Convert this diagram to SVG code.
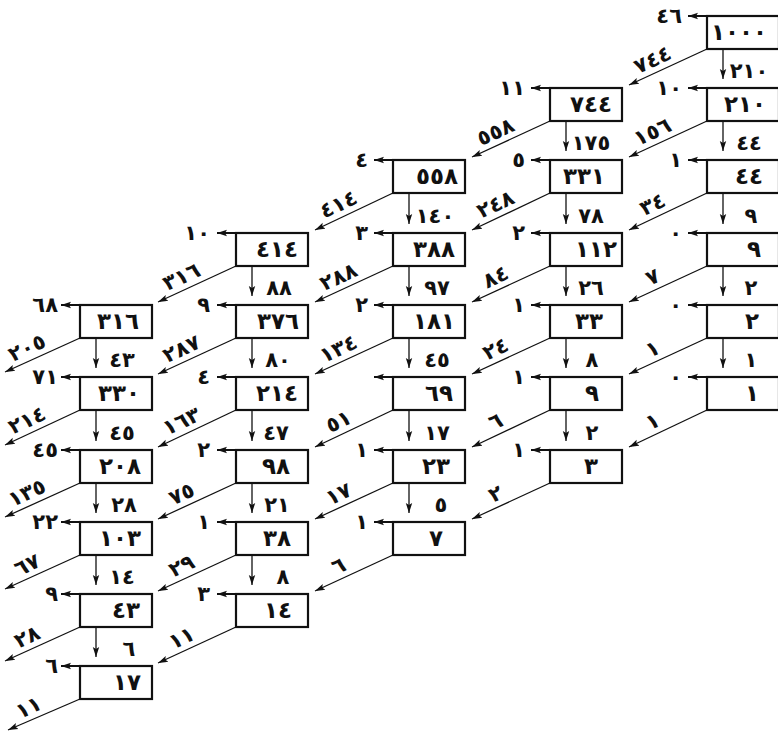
<svg xmlns="http://www.w3.org/2000/svg" width="778" height="738" viewBox="0 0 778 738">
<defs>
<marker id="ah" markerUnits="userSpaceOnUse" markerWidth="12" markerHeight="8" refX="10" refY="4" orient="auto">
<path d="M0,0.8 L10,4 L0,7.2 L2,4 Z" fill="#111"/>
</marker>
</defs>
<style>
.b{fill:#fff;stroke:#111;stroke-width:2.2}
text{font-family:"DejaVu Sans",sans-serif;font-weight:bold;font-size:21px;fill:#111}
.v{text-anchor:middle;font-size:23px}
.l{text-anchor:end}
.d{text-anchor:middle}
.g{text-anchor:middle}
.h{stroke:#111;stroke-width:2;marker-end:url(#ah)}
.dn{stroke:#111;stroke-width:1.3;marker-end:url(#ah)}
.dg{stroke:#111;stroke-width:1.3;marker-end:url(#ah)}
</style>
<rect width="778" height="738" fill="#fff"/>
<g id="connectors">
<line class="h" x1="708" y1="16" x2="688" y2="16"/>
<line class="h" x1="708" y1="88" x2="688" y2="88"/>
<line class="h" x1="708" y1="160" x2="688" y2="160"/>
<line class="h" x1="708" y1="233" x2="688" y2="233"/>
<line class="h" x1="708" y1="305" x2="688" y2="305"/>
<line class="h" x1="708" y1="377" x2="688" y2="377"/>
<line class="dn" x1="723" y1="49" x2="723" y2="79"/>
<line class="dn" x1="723" y1="121" x2="723" y2="151"/>
<line class="dn" x1="723" y1="193" x2="723" y2="224"/>
<line class="dn" x1="723" y1="266" x2="723" y2="296"/>
<line class="dn" x1="723" y1="338" x2="723" y2="368"/>
<line class="dg" x1="707" y1="49" x2="629" y2="85"/>
<line class="dg" x1="707" y1="121" x2="629" y2="157"/>
<line class="dg" x1="707" y1="193" x2="629" y2="230"/>
<line class="dg" x1="707" y1="266" x2="629" y2="302"/>
<line class="dg" x1="707" y1="338" x2="629" y2="374"/>
<line class="dg" x1="707" y1="410" x2="629" y2="447"/>
<line class="h" x1="551" y1="88" x2="531" y2="88"/>
<line class="h" x1="551" y1="160" x2="531" y2="160"/>
<line class="h" x1="551" y1="233" x2="531" y2="233"/>
<line class="h" x1="551" y1="305" x2="531" y2="305"/>
<line class="h" x1="551" y1="377" x2="531" y2="377"/>
<line class="h" x1="551" y1="450" x2="531" y2="450"/>
<line class="dn" x1="566" y1="121" x2="566" y2="151"/>
<line class="dn" x1="566" y1="193" x2="566" y2="224"/>
<line class="dn" x1="566" y1="266" x2="566" y2="296"/>
<line class="dn" x1="566" y1="338" x2="566" y2="368"/>
<line class="dn" x1="566" y1="410" x2="566" y2="441"/>
<line class="dg" x1="550" y1="121" x2="472" y2="157"/>
<line class="dg" x1="550" y1="193" x2="472" y2="230"/>
<line class="dg" x1="550" y1="266" x2="472" y2="302"/>
<line class="dg" x1="550" y1="338" x2="472" y2="374"/>
<line class="dg" x1="550" y1="410" x2="472" y2="447"/>
<line class="dg" x1="550" y1="483" x2="472" y2="519"/>
<line class="h" x1="394" y1="160" x2="374" y2="160"/>
<line class="h" x1="394" y1="233" x2="374" y2="233"/>
<line class="h" x1="394" y1="305" x2="374" y2="305"/>
<line class="h" x1="394" y1="377" x2="374" y2="377"/>
<line class="h" x1="394" y1="450" x2="374" y2="450"/>
<line class="h" x1="394" y1="522" x2="374" y2="522"/>
<line class="dn" x1="409" y1="193" x2="409" y2="224"/>
<line class="dn" x1="409" y1="266" x2="409" y2="296"/>
<line class="dn" x1="409" y1="338" x2="409" y2="368"/>
<line class="dn" x1="409" y1="410" x2="409" y2="441"/>
<line class="dn" x1="409" y1="483" x2="409" y2="513"/>
<line class="dg" x1="393" y1="193" x2="315" y2="230"/>
<line class="dg" x1="393" y1="266" x2="315" y2="302"/>
<line class="dg" x1="393" y1="338" x2="315" y2="374"/>
<line class="dg" x1="393" y1="410" x2="315" y2="447"/>
<line class="dg" x1="393" y1="483" x2="315" y2="519"/>
<line class="dg" x1="393" y1="555" x2="315" y2="591"/>
<line class="h" x1="237" y1="233" x2="217" y2="233"/>
<line class="h" x1="237" y1="305" x2="217" y2="305"/>
<line class="h" x1="237" y1="377" x2="217" y2="377"/>
<line class="h" x1="237" y1="450" x2="217" y2="450"/>
<line class="h" x1="237" y1="522" x2="217" y2="522"/>
<line class="h" x1="237" y1="594" x2="217" y2="594"/>
<line class="dn" x1="252" y1="266" x2="252" y2="296"/>
<line class="dn" x1="252" y1="338" x2="252" y2="368"/>
<line class="dn" x1="252" y1="410" x2="252" y2="441"/>
<line class="dn" x1="252" y1="483" x2="252" y2="513"/>
<line class="dn" x1="252" y1="555" x2="252" y2="585"/>
<line class="dg" x1="236" y1="266" x2="158" y2="302"/>
<line class="dg" x1="236" y1="338" x2="158" y2="374"/>
<line class="dg" x1="236" y1="410" x2="158" y2="447"/>
<line class="dg" x1="236" y1="483" x2="158" y2="519"/>
<line class="dg" x1="236" y1="555" x2="158" y2="591"/>
<line class="dg" x1="236" y1="627" x2="158" y2="663"/>
<line class="h" x1="81" y1="305" x2="61" y2="305"/>
<line class="h" x1="81" y1="377" x2="61" y2="377"/>
<line class="h" x1="81" y1="450" x2="61" y2="450"/>
<line class="h" x1="81" y1="522" x2="61" y2="522"/>
<line class="h" x1="81" y1="594" x2="61" y2="594"/>
<line class="h" x1="81" y1="666" x2="61" y2="666"/>
<line class="dn" x1="96" y1="338" x2="96" y2="368"/>
<line class="dn" x1="96" y1="410" x2="96" y2="441"/>
<line class="dn" x1="96" y1="483" x2="96" y2="513"/>
<line class="dn" x1="96" y1="555" x2="96" y2="585"/>
<line class="dn" x1="96" y1="627" x2="96" y2="657"/>
<line class="dg" x1="80" y1="338" x2="5" y2="372"/>
<line class="dg" x1="80" y1="410" x2="5" y2="445"/>
<line class="dg" x1="80" y1="483" x2="5" y2="517"/>
<line class="dg" x1="80" y1="555" x2="5" y2="589"/>
<line class="dg" x1="80" y1="627" x2="5" y2="661"/>
<line class="dg" x1="80" y1="699" x2="8" y2="730"/>
<text class="l" x="682" y="23">٤٦</text>
<text class="l" x="682" y="95">١٠</text>
<text class="l" x="682" y="167">١</text>
<text class="l" x="682" y="240">٠</text>
<text class="l" x="682" y="312">٠</text>
<text class="l" x="682" y="384">٠</text>
<text class="l" x="525" y="95">١١</text>
<text class="l" x="525" y="167">٥</text>
<text class="l" x="525" y="240">٢</text>
<text class="l" x="525" y="312">١</text>
<text class="l" x="525" y="384">١</text>
<text class="l" x="525" y="457">١</text>
<text class="l" x="368" y="167">٤</text>
<text class="l" x="368" y="240">٣</text>
<text class="l" x="368" y="312">٢</text>
<text class="l" x="368" y="457">١</text>
<text class="l" x="368" y="529">١</text>
<text class="l" x="210" y="240">١٠</text>
<text class="l" x="210" y="312">٩</text>
<text class="l" x="210" y="384">٤</text>
<text class="l" x="210" y="457">٢</text>
<text class="l" x="210" y="529">١</text>
<text class="l" x="210" y="601">٣</text>
<text class="l" x="58" y="312">٦٨</text>
<text class="l" x="58" y="384">٧١</text>
<text class="l" x="58" y="457">٤٥</text>
<text class="l" x="58" y="529">٢٢</text>
<text class="l" x="58" y="601">٩</text>
<text class="l" x="58" y="673">٦</text>
<text class="d" x="749" y="78">٢١٠</text>
<text class="d" x="749" y="150">٤٤</text>
<text class="d" x="751" y="223">٩</text>
<text class="d" x="751" y="295">٢</text>
<text class="d" x="751" y="367">١</text>
<text class="d" x="591" y="150">١٧٥</text>
<text class="d" x="591" y="223">٧٨</text>
<text class="d" x="591" y="295">٢٦</text>
<text class="d" x="592" y="367">٨</text>
<text class="d" x="592" y="440">٢</text>
<text class="d" x="435" y="223">١٤٠</text>
<text class="d" x="437" y="295">٩٧</text>
<text class="d" x="437" y="367">٤٥</text>
<text class="d" x="437" y="440">١٧</text>
<text class="d" x="441" y="512">٥</text>
<text class="d" x="279" y="295">٨٨</text>
<text class="d" x="278" y="367">٨٠</text>
<text class="d" x="276" y="440">٤٧</text>
<text class="d" x="277" y="512">٢١</text>
<text class="d" x="283" y="584">٨</text>
<text class="d" x="122" y="367">٤٣</text>
<text class="d" x="122" y="440">٤٥</text>
<text class="d" x="124" y="512">٢٨</text>
<text class="d" x="122" y="584">١٤</text>
<text class="d" x="129" y="656">٦</text>
<text class="g" transform="translate(668 67) rotate(-25)" x="-11" y="-6">٧٤٤</text>
<text class="g" transform="translate(668 139) rotate(-25)" x="-11" y="-6">١٥٦</text>
<text class="g" transform="translate(668 211.5) rotate(-25)" x="-11" y="-6">٣٤</text>
<text class="g" transform="translate(668 284) rotate(-25)" x="-11" y="-6">٧</text>
<text class="g" transform="translate(668 356) rotate(-25)" x="-11" y="-6">١</text>
<text class="g" transform="translate(668 428.5) rotate(-25)" x="-11" y="-6">١</text>
<text class="g" transform="translate(511 139) rotate(-25)" x="-11" y="-6">٥٥٨</text>
<text class="g" transform="translate(511 211.5) rotate(-25)" x="-11" y="-6">٢٤٨</text>
<text class="g" transform="translate(511 284) rotate(-25)" x="-11" y="-6">٨٤</text>
<text class="g" transform="translate(511 356) rotate(-25)" x="-11" y="-6">٢٤</text>
<text class="g" transform="translate(511 428.5) rotate(-25)" x="-11" y="-6">٦</text>
<text class="g" transform="translate(511 501) rotate(-25)" x="-11" y="-6">٢</text>
<text class="g" transform="translate(354 211.5) rotate(-25)" x="-11" y="-6">٤١٤</text>
<text class="g" transform="translate(354 284) rotate(-25)" x="-11" y="-6">٢٨٨</text>
<text class="g" transform="translate(354 356) rotate(-25)" x="-11" y="-6">١٣٤</text>
<text class="g" transform="translate(354 428.5) rotate(-25)" x="-11" y="-6">٥١</text>
<text class="g" transform="translate(354 501) rotate(-25)" x="-11" y="-6">١٧</text>
<text class="g" transform="translate(354 573) rotate(-25)" x="-11" y="-6">٦</text>
<text class="g" transform="translate(197 284) rotate(-25)" x="-11" y="-6">٣١٦</text>
<text class="g" transform="translate(197 356) rotate(-25)" x="-11" y="-6">٢٨٧</text>
<text class="g" transform="translate(197 428.5) rotate(-25)" x="-11" y="-6">١٦٣</text>
<text class="g" transform="translate(197 501) rotate(-25)" x="-11" y="-6">٧٥</text>
<text class="g" transform="translate(197 573) rotate(-25)" x="-11" y="-6">٢٩</text>
<text class="g" transform="translate(197 645) rotate(-25)" x="-11" y="-6">١١</text>
<text class="g" transform="translate(42.5 355) rotate(-25)" x="-11" y="-6">٢٠٥</text>
<text class="g" transform="translate(42.5 427.5) rotate(-25)" x="-11" y="-6">٢١٤</text>
<text class="g" transform="translate(42.5 500) rotate(-25)" x="-11" y="-6">١٣٥</text>
<text class="g" transform="translate(42.5 572) rotate(-25)" x="-11" y="-6">٦٧</text>
<text class="g" transform="translate(42.5 644) rotate(-25)" x="-11" y="-6">٢٨</text>
<text class="g" transform="translate(44 714.5) rotate(-25)" x="-11" y="-6">١١</text>
</g>
<g id="n0-0"><rect class="b" x="707" y="16" width="72" height="33"/><text class="v" x="739" y="40">١٠٠٠</text></g>
<g id="n0-1"><rect class="b" x="707" y="88" width="72" height="33"/><text class="v" x="745" y="112">٢١٠</text></g>
<g id="n0-2"><rect class="b" x="707" y="160" width="72" height="33"/><text class="v" x="749" y="184">٤٤</text></g>
<g id="n0-3"><rect class="b" x="707" y="233" width="72" height="33"/><text class="v" x="754" y="257">٩</text></g>
<g id="n0-4"><rect class="b" x="707" y="305" width="72" height="33"/><text class="v" x="752" y="329">٢</text></g>
<g id="n0-5"><rect class="b" x="707" y="377" width="72" height="33"/><text class="v" x="752" y="401">١</text></g>
<g id="n1-0"><rect class="b" x="550" y="88" width="72" height="33"/><text class="v" x="591" y="112">٧٤٤</text></g>
<g id="n1-1"><rect class="b" x="550" y="160" width="72" height="33"/><text class="v" x="584" y="184">٣٣١</text></g>
<g id="n1-2"><rect class="b" x="550" y="233" width="72" height="33"/><text class="v" x="596" y="257">١١٢</text></g>
<g id="n1-3"><rect class="b" x="550" y="305" width="72" height="33"/><text class="v" x="589" y="329">٣٣</text></g>
<g id="n1-4"><rect class="b" x="550" y="377" width="72" height="33"/><text class="v" x="592" y="401">٩</text></g>
<g id="n1-5"><rect class="b" x="550" y="450" width="72" height="33"/><text class="v" x="591" y="474">٣</text></g>
<g id="n2-0"><rect class="b" x="393" y="160" width="72" height="33"/><text class="v" x="437" y="184">٥٥٨</text></g>
<g id="n2-1"><rect class="b" x="393" y="233" width="72" height="33"/><text class="v" x="434" y="257">٣٨٨</text></g>
<g id="n2-2"><rect class="b" x="393" y="305" width="72" height="33"/><text class="v" x="434" y="329">١٨١</text></g>
<g id="n2-3"><rect class="b" x="393" y="377" width="72" height="33"/><text class="v" x="439" y="401">٦٩</text></g>
<g id="n2-4"><rect class="b" x="393" y="450" width="72" height="33"/><text class="v" x="436" y="474">٢٣</text></g>
<g id="n2-5"><rect class="b" x="393" y="522" width="72" height="33"/><text class="v" x="436" y="546">٧</text></g>
<g id="n3-0"><rect class="b" x="236" y="233" width="72" height="33"/><text class="v" x="277" y="257">٤١٤</text></g>
<g id="n3-1"><rect class="b" x="236" y="305" width="72" height="33"/><text class="v" x="278" y="329">٣٧٦</text></g>
<g id="n3-2"><rect class="b" x="236" y="377" width="72" height="33"/><text class="v" x="277" y="401">٢١٤</text></g>
<g id="n3-3"><rect class="b" x="236" y="450" width="72" height="33"/><text class="v" x="276" y="474">٩٨</text></g>
<g id="n3-4"><rect class="b" x="236" y="522" width="72" height="33"/><text class="v" x="277" y="546">٣٨</text></g>
<g id="n3-5"><rect class="b" x="236" y="594" width="72" height="33"/><text class="v" x="278" y="618">١٤</text></g>
<g id="n4-0"><rect class="b" x="80" y="305" width="72" height="33"/><text class="v" x="118" y="329">٣١٦</text></g>
<g id="n4-1"><rect class="b" x="80" y="377" width="72" height="33"/><text class="v" x="119" y="401">٣٣٠</text></g>
<g id="n4-2"><rect class="b" x="80" y="450" width="72" height="33"/><text class="v" x="120" y="474">٢٠٨</text></g>
<g id="n4-3"><rect class="b" x="80" y="522" width="72" height="33"/><text class="v" x="120" y="546">١٠٣</text></g>
<g id="n4-4"><rect class="b" x="80" y="594" width="72" height="33"/><text class="v" x="126" y="618">٤٣</text></g>
<g id="n4-5"><rect class="b" x="80" y="666" width="72" height="33"/><text class="v" x="127" y="690">١٧</text></g>
</svg>
